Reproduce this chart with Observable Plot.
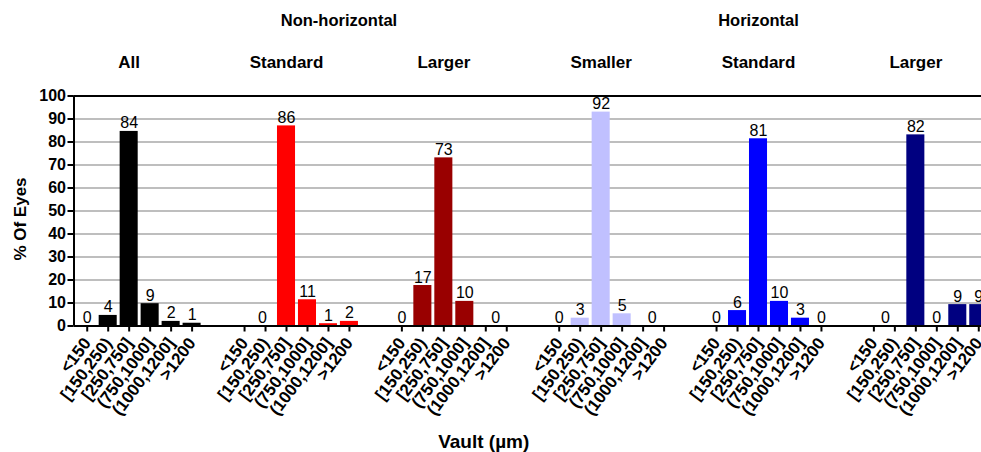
<!DOCTYPE html>
<html>
<head>
<meta charset="utf-8">
<script src="https://cdn.jsdelivr.net/npm/d3@7"></script>
<script src="https://cdn.jsdelivr.net/npm/@observablehq/plot@0.6"></script>
<style>
  html, body { margin: 0; padding: 0; background: #fff; }
  body { width: 981px; height: 452px; overflow: hidden; font-family: "Liberation Sans", Arial, sans-serif; }
</style>
</head>
<body>
<div id="chart"></div>
<script>
// ---- data ----
const bins = ["<150", "[150,250)", "[250,750]", "(750,1000]", "(1000,1200]", ">1200"];
const groupNames = ["All", "Standard", "Larger", "Smaller", "Standard", "Larger"];
const groupColors = ["#000000", "#ff0000", "#990000", "#c0c0ff", "#0000ff", "#000080"];
const headers = ["Non-horizontal", "Horizontal"];
const headerGroup = [1, 4];
const headerBin = [4.5, 2];

// bar heights (% of eyes) per group, null = no data
const nhAll      = [0, 4.6, 84.6, 9.7, 2.0, 1.2];
const nhStandard = [null, 0, 87.0, 11.4, 1.0, 2.0];
const nhLarger   = [0, 17.6, 73.1, 10.7, 0, null];
const hSmaller   = [0, 3.4, 93.0, 5.3, 0, null];
const hStandard  = [0, 6.7, 81.4, 10.7, 3.4, 0];
const hLarger    = [0, null, 83.1, 0, 9.3, 9.3];

// printed value labels
const nhAllLbl      = [0, 4, 84, 9, 2, 1];
const nhStandardLbl = [null, 0, 86, 11, 1, 2];
const nhLargerLbl   = [0, 17, 73, 10, 0, null];
const hSmallerLbl   = [0, 3, 92, 5, 0, null];
const hStandardLbl  = [0, 6, 81, 10, 3, 0];
const hLargerLbl    = [0, null, 82, 0, 9, 9];

// label nudges (in bin widths) where the printed label sits between ticks
const nhAllShift      = [0, 0, 0, 0, 0, 0];
const nhStandardShift = [0, -0.15, 0, 0, 0, 0];
const nhLargerShift   = [0, 0, 0, 0, 0.47, 0];
const hSmallerShift   = [0, 0, 0, 0, 0.43, 0];
const hStandardShift  = [0, 0, 0, 0, 0, 0];
const hLargerShift    = [0.55, 0, 0, 0, 0, 0];

const yTicks = [0, 10, 20, 30, 40, 50, 60, 70, 80, 90, 100];

// ---- build table ----
const values = [nhAll, nhStandard, nhLarger, hSmaller, hStandard, hLarger];
const labels = [nhAllLbl, nhStandardLbl, nhLargerLbl, hSmallerLbl, hStandardLbl, hLargerLbl];
const shifts = [nhAllShift, nhStandardShift, nhLargerShift, hSmallerShift, hStandardShift, hLargerShift];
const groupStep = 7.5;
const rows = groupNames.flatMap((g, gi) => bins.map((b, bi) => ({
  group: gi, bin: bi, pos: gi * groupStep + bi,
  value: values[gi][bi], label: labels[gi][bi], shift: shifts[gi][bi]
})));
const tickPos = rows.map(d => d.pos);
const tickName = new Map(rows.map(d => [d.pos, bins[d.bin]]));
const xDomain = [-0.63, 42.63];
const half = 0.43;

const font = "Liberation Sans, Arial, sans-serif";

const chart = Plot.plot({
  width: 981,
  height: 452,
  marginLeft: 73.5,
  marginRight: 0,
  marginTop: 95.5,
  marginBottom: 126.5,
  style: { fontFamily: font, background: "#fff", color: "#000", overflow: "hidden" },
  x: { type: "linear", domain: xDomain },
  y: { domain: [0, 100] },
  color: { type: "ordinal", domain: d3.range(groupNames.length), range: groupColors },
  marks: [
    Plot.ruleY(yTicks.filter(t => t > 0 && t < 100), { stroke: "#a8a8a8", strokeWidth: 1.6 }),
    Plot.ruleY([100], { stroke: "#000", strokeWidth: 2 }),
    Plot.rectY(rows.filter(d => d.value != null && d.value > 0), {
      x1: d => d.pos - half, x2: d => d.pos + half, y1: 0, y2: "value", fill: "group"
    }),
    Plot.ruleY([0], { stroke: "#000", strokeWidth: 2 }),
    Plot.ruleX([xDomain[0]], { stroke: "#000", strokeWidth: 2 }),
    Plot.text(rows.filter(d => d.label != null), {
      x: d => d.pos + d.shift, y: "value", text: d => String(d.label),
      lineAnchor: "bottom", dy: -3, fontSize: 16, fill: "#000"
    }),
    Plot.axisX({
      ticks: tickPos, tickFormat: d => tickName.get(d), tickRotate: -53,
      tickSize: 6, tickPadding: 8, strokeWidth: 2, fontSize: 17, fontWeight: "bold", label: null
    }),
    Plot.axisY({
      ticks: yTicks, tickSize: 6, tickPadding: 2, strokeWidth: 2,
      fontSize: 16, fontWeight: "bold", label: null
    }),
    Plot.text(groupNames, {
      x: (d, i) => i * groupStep + 2, frameAnchor: "top", lineAnchor: "middle", dy: -33.5,
      fontSize: 17, fontWeight: "bold", fill: "#000"
    }),
    Plot.text(headers, {
      x: (d, i) => headerGroup[i] * groupStep + headerBin[i], frameAnchor: "top", lineAnchor: "middle", dy: -75,
      fontSize: 16.5, fontWeight: "bold", fill: "#000"
    }),
    Plot.text(["% Of Eyes"], {
      frameAnchor: "left", textAnchor: "middle", lineAnchor: "middle", dx: -53.5, dy: 8, rotate: -90,
      fontSize: 17, fontWeight: "bold", fill: "#000"
    }),
    Plot.text(["Vault (µm)"], {
      frameAnchor: "bottom", lineAnchor: "middle", dx: -44, dy: 116, fontSize: 19, fontWeight: "bold", fill: "#000"
    })
  ]
});
document.getElementById("chart").appendChild(chart);
</script>
</body>
</html>
